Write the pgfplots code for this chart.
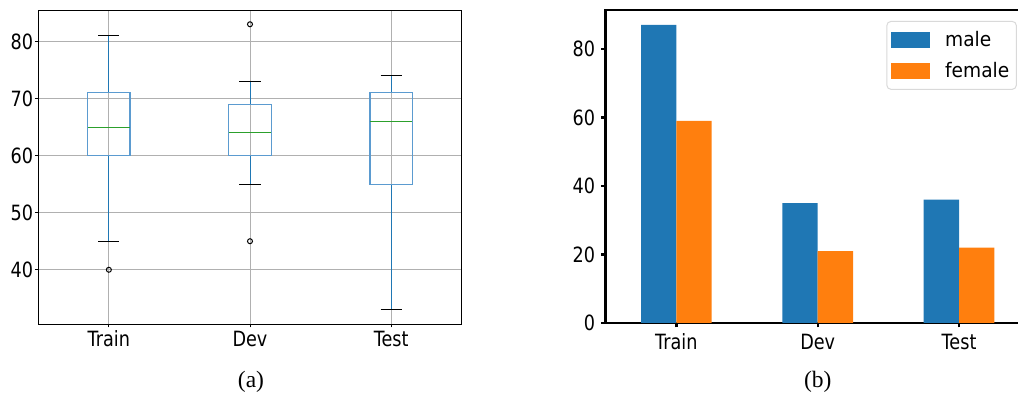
\documentclass[border=0pt]{standalone}
\usepackage{fontspec}
\setmainfont{Liberation Serif}
\newfontfamily\tickfam[FakeStretch=0.84]{DejaVu Sans}
\newfontfamily\legfam[FakeStretch=0.93]{DejaVu Sans}
\usepackage{pgfplots}
\pgfplotsset{compat=1.18}
\definecolor{tabblue}{HTML}{1F77B4}
\definecolor{taborange}{HTML}{FF7F0E}
\definecolor{tabgreen}{HTML}{2CA02C}
\definecolor{gridgray}{HTML}{B0B0B0}
\definecolor{boxblue}{HTML}{5B9BD0}
\newcommand\tickfont{\tickfam\fontsize{21bp}{25bp}\selectfont}
\newcommand\legfont{\legfam\fontsize{20bp}{24bp}\selectfont}
\newcommand\capfont{\fontsize{23.5bp}{28bp}\selectfont}
\pgfplotsset{
  boxline/.style={boxblue, line width=1.2bp, line join=miter, mark=none},
  whisk/.style={tabblue, line width=1bp, mark=none},
  capline/.style={black, line width=1bp, mark=none},
  medline/.style={tabgreen, line width=1bp, mark=none},
  flier/.style={only marks, mark=o, mark size=2.5bp, mark options={draw=black, line width=1bp, solid}},
}

\begin{document}
\begin{tikzpicture}
\useasboundingbox (0,0) rectangle (1018bp,399bp);
\clip (0,0) rectangle (1018bp,399bp);
\begin{axis}[
  at={(38.3bp,75bp)}, anchor=south west,
  scale only axis, width=423.4bp, height=314bp,
  xmin=0.5, xmax=3.5, ymin=30.5, ymax=85.5,
  xtick={1,2,3}, xticklabels={Train,Dev,Test},
  ytick={40,50,60,70,80},
  tick pos=left,
  grid=major, major grid style={gridgray, line width=1bp},
  tick align=outside, major tick length=3.5bp,
  every tick/.style={black, line width=0.8bp},
  axis line style={black, line width=0.9bp},
  /pgf/number format/assume math mode=true,
  ticklabel style={font=\tickfont},
  yticklabel style={inner xsep=1.5bp},
  xticklabel style={inner ysep=3bp},
]
% Train: whiskers 45/81, box 60-71, median 65, outlier 40
\addplot[whisk] coordinates {(1,45) (1,60)};
\addplot[whisk] coordinates {(1,71) (1,81)};
\addplot[capline] coordinates {(0.925,45) (1.075,45)};
\addplot[capline] coordinates {(0.925,81) (1.075,81)};
\addplot[boxline] coordinates {(0.85,65) (0.85,60) (1.15,60) (1.15,71) (0.85,71) (0.85,65)};
\addplot[medline] coordinates {(0.85,65) (1.15,65)};
\addplot[flier] coordinates {(1,40)};
% Dev: whiskers 55/73, box 60-69, median 64, outliers 45, 83
\addplot[whisk] coordinates {(2,55) (2,60)};
\addplot[whisk] coordinates {(2,69) (2,73)};
\addplot[capline] coordinates {(1.925,55) (2.075,55)};
\addplot[capline] coordinates {(1.925,73) (2.075,73)};
\addplot[boxline] coordinates {(1.85,64) (1.85,60) (2.15,60) (2.15,69) (1.85,69) (1.85,64)};
\addplot[medline] coordinates {(1.85,64) (2.15,64)};
\addplot[flier] coordinates {(2,45) (2,83)};
% Test: whiskers 33/74, box 55-71, median 66
\addplot[whisk] coordinates {(3,33) (3,55)};
\addplot[whisk] coordinates {(3,71) (3,74)};
\addplot[capline] coordinates {(2.925,33) (3.075,33)};
\addplot[capline] coordinates {(2.925,74) (3.075,74)};
\addplot[boxline] coordinates {(2.85,62) (2.85,55) (3.15,55) (3.15,71) (2.85,71) (2.85,62)};
\addplot[medline] coordinates {(2.85,66) (3.15,66)};
\end{axis}

\begin{axis}[
  at={(605.7bp,76bp)}, anchor=south west,
  scale only axis, width=424bp, height=313bp,
  xmin=-0.5, xmax=2.5, ymin=0, ymax=91.35,
  xtick={0,1,2}, xticklabels={Train,Dev,Test},
  ytick={0,20,40,60,80},
  tick pos=left,
  tick align=outside, major tick length=4.5bp,
  every tick/.style={black, line width=2.4bp},
  axis line style={black, line width=2.5bp},
  /pgf/number format/assume math mode=true,
  ticklabel style={font=\tickfont},
  yticklabel style={inner xsep=6bp},
  xticklabel style={inner ysep=6bp},
  ybar, bar width=0.25,
  legend image code/.code={\fill[#1, sharp corners] (0bp,-7.8bp) rectangle (39.3bp,7.8bp);},
  legend style={at={(0.662,0.965)}, anchor=north west, draw=black!15, line width=1bp,
    rounded corners=4bp, fill=white, inner xsep=4bp, inner ysep=8bp, row sep=10.5bp,
    column sep=12bp, font=\legfont, nodes={inner xsep=3bp}},
  legend cell align=left,
]
\addplot[fill=tabblue, draw=none, bar shift=-0.125] coordinates {(0,87) (1,35) (2,36)};
\addplot[fill=taborange, draw=none, bar shift=0.125] coordinates {(0,59) (1,21) (2,22)};
\legend{male,female}
\end{axis}

\node[font=\capfont, anchor=base] at (251bp,11.5bp) {(a)};
\node[font=\capfont, anchor=base] at (817.7bp,11.5bp) {(b)};
\end{tikzpicture}
\end{document}
